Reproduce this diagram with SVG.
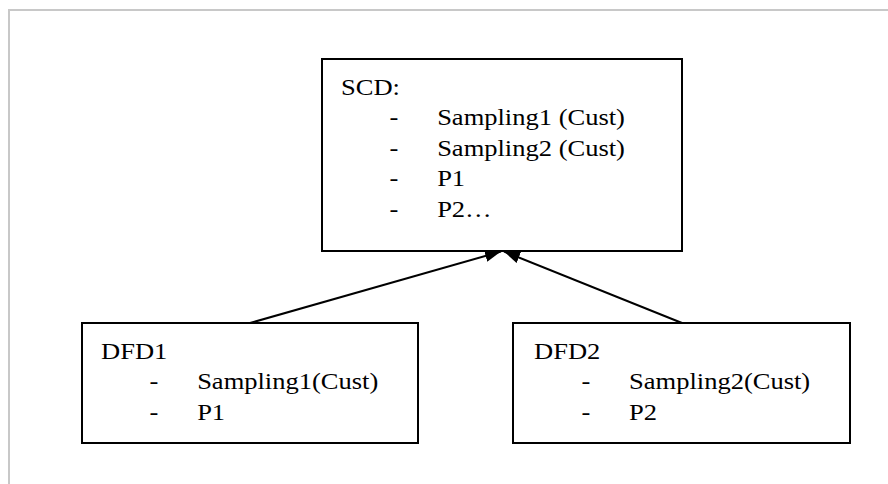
<svg xmlns="http://www.w3.org/2000/svg" width="888" height="484" viewBox="0 0 888 484">
  <style>
    .frame { fill: none; stroke: #c8c8c8; stroke-width: 2; }
    .box { fill: #ffffff; stroke: #000000; stroke-width: 2; }
    .edge { fill: none; stroke: #000000; stroke-width: 2; marker-end: url(#arrow); }
    text { font-family: "Liberation Serif", "Times New Roman", serif; font-size: 24px; fill: #000000; }
  </style>
  <defs>
    <marker id="arrow" viewBox="0 0 16 12" refX="16" refY="6" markerWidth="16" markerHeight="12" markerUnits="userSpaceOnUse" orient="auto">
      <path d="M0,0 L16,6 L0,12 Z" fill="#000000"/>
    </marker>
  </defs>

  <!-- page frame -->
  <path class="frame" d="M9,484 L9,10 L888,10"/>

  <!-- connectors -->
  <g id="connectors">
    <line class="edge" x1="250" y1="323" x2="501" y2="251.5"/>
    <line class="edge" x1="682" y1="323" x2="504" y2="251.5"/>
  </g>

  <!-- SCD node -->
  <g id="scd">
    <rect class="box" x="322" y="59" width="360" height="192"/>
    <g transform="translate(341,0) scale(1.105,1)">
      <text x="0" y="95">SCD:</text>
      <text x="44" y="125.5">-</text>
      <text x="87" y="125.5">Sampling1 (Cust)</text>
      <text x="44" y="156">-</text>
      <text x="87" y="156">Sampling2 (Cust)</text>
      <text x="44" y="186.5">-</text>
      <text x="87" y="186.5">P1</text>
      <text x="44" y="217">-</text>
      <text x="87" y="217">P2…</text>
    </g>
  </g>

  <!-- DFD1 node -->
  <g id="dfd1">
    <rect class="box" x="82" y="323" width="336" height="120"/>
    <g transform="translate(101,0) scale(1.105,1)">
      <text x="0" y="359">DFD1</text>
      <text x="44" y="389.5">-</text>
      <text x="87" y="389.5">Sampling1(Cust)</text>
      <text x="44" y="420">-</text>
      <text x="87" y="420">P1</text>
    </g>
  </g>

  <!-- DFD2 node -->
  <g id="dfd2">
    <rect class="box" x="513" y="323" width="337" height="120"/>
    <g transform="translate(534,0) scale(1.105,1)">
      <text x="0" y="359">DFD2</text>
      <text x="43" y="389.5">-</text>
      <text x="86" y="389.5">Sampling2(Cust)</text>
      <text x="43" y="420">-</text>
      <text x="86" y="420">P2</text>
    </g>
  </g>
</svg>
